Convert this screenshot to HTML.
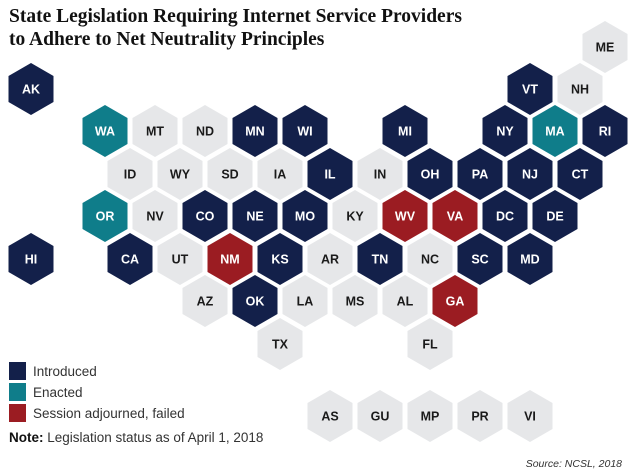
<!DOCTYPE html>
<html><head><meta charset="utf-8"><style>
body{margin:0;background:#fff;}
svg{display:block;}
.t{font-family:"Liberation Serif",serif;font-weight:bold;font-size:19.5px;fill:#111;}
.lab{font-family:"Liberation Sans",sans-serif;font-weight:bold;font-size:12.5px;text-anchor:middle;}
.leg{font-family:"Liberation Sans",sans-serif;font-size:13.5px;fill:#333;}
</style></head><body>
<svg id="map" width="635" height="476" viewBox="0 0 635 476" xmlns="http://www.w3.org/2000/svg">
<text class="t" x="9" y="22">State Legislation Requiring Internet Service Providers</text>
<text class="t" x="9" y="45">to Adhere to Net Neutrality Principles</text>
<g id="hexes"></g>
<rect x="9" y="362" width="17" height="18" fill="#13204a"/>
<text class="leg" x="33" y="376">Introduced</text>
<rect x="9" y="383" width="17" height="18" fill="#0f7d8a"/>
<text class="leg" x="33" y="397">Enacted</text>
<rect x="9" y="404" width="17" height="18" fill="#9b1c22"/>
<text class="leg" x="33" y="418">Session adjourned, failed</text>
<text class="leg" x="9" y="442"><tspan font-weight="bold" fill="#111">Note:</tspan> Legislation status as of April 1, 2018</text>
<text x="622" y="467" text-anchor="end" font-family="Liberation Sans, sans-serif" font-style="italic" font-size="10.5" fill="#333">Source:  NCSL, 2018</text>
</svg>
<script>
const codes=["ME","AK","VT","NH","WA","MT","ND","MN","WI","MI","NY","MA","RI","ID","WY","SD","IA","IL","IN","OH","PA","NJ","CT","OR","NV","CO","NE","MO","KY","WV","VA","DC","DE","HI","CA","UT","NM","KS","AR","TN","NC","SC","MD","AZ","OK","LA","MS","AL","GA","TX","FL","AS","GU","MP","PR","VI"];
const xs=[605,31,530,580,105,155,205,255,305,405,505,555,605,130,180,230,280,330,380,430,480,530,580,105,155,205,255,305,355,405,455,505,555,31,130,180,230,280,330,380,430,480,530,205,255,305,355,405,455,280,430,330,380,430,480,530];
const ys=[47,89,89,89,131,131,131,131,131,131,131,131,131,174,174,174,174,174,174,174,174,174,174,216,216,216,216,216,216,216,216,216,216,259,259,259,259,259,259,259,259,259,259,301,301,301,301,301,301,344,344,416,416,416,416,416];
const status=["N","I","I","N","E","N","N","I","I","I","I","E","I","N","N","N","N","I","N","I","I","I","I","E","N","I","I","I","N","F","F","I","I","I","I","N","F","I","N","I","N","I","I","N","I","N","N","N","F","N","N","N","N","N","N","N"];
const fills={I:"#13204a",E:"#0f7d8a",F:"#9b1c22",N:"#e6e7e9"};
const g=document.getElementById('hexes');
const NS="http://www.w3.org/2000/svg";
const R=26;
codes.forEach((c,i)=>{
  const cx=xs[i],cy=ys[i];
  const pts=[];
  for(let k=0;k<6;k++){const a=Math.PI/180*(60*k-90);pts.push((cx+R*Math.cos(a)).toFixed(1)+","+(cy+R*Math.sin(a)).toFixed(1));}
  const p=document.createElementNS(NS,'polygon');
  p.setAttribute('points',pts.join(' '));
  p.setAttribute('fill',fills[status[i]]);
  
  
  g.appendChild(p);
  const t=document.createElementNS(NS,'text');
  t.setAttribute('x',cx);t.setAttribute('y',cy+4.5);
  t.setAttribute('class','lab');
  t.setAttribute('fill',status[i]==="N"?"#1a1a1a":"#fff");
  t.textContent=c;
  
  
  g.appendChild(t);
});
</script>
</body></html>
